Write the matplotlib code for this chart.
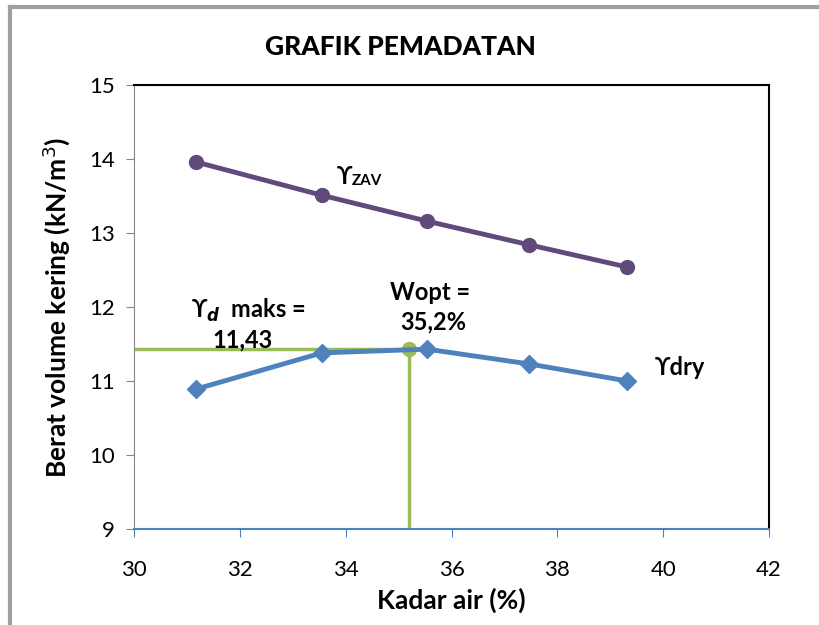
import matplotlib.pyplot as plt
from matplotlib.lines import Line2D

plt.rcParams['font.family'] = ['Lato', 'DejaVu Sans']

# kadar air (%) dan berat volume (kN/m3)
kadar_air = [31.17, 33.55, 35.54, 37.47, 39.32]
gamma_zav = [13.96, 13.51, 13.16, 12.84, 12.54]
gamma_dry = [10.89, 11.38, 11.43, 11.23, 11.00]
w_opt = 35.2
gd_maks = 11.43

x_ticks = [30, 32, 34, 36, 38, 40, 42]
y_ticks = [9, 10, 11, 12, 13, 14, 15]

purple = '#604A7B'
blue = '#4F81BD'
green = '#9BBB59'

fig = plt.figure(figsize=(8.19, 6.25), dpi=100)
ax = fig.add_axes([0.1636, 0.1536, 0.7754, 0.7104])

ax.plot(kadar_air, gamma_zav, color=purple, lw=3.5, marker='o', ms=10, zorder=3)
ax.plot([30, w_opt], [gd_maks, gd_maks], color=green, lw=2.5, zorder=2)
ax.plot([w_opt, w_opt], [9, gd_maks], color=green, lw=2.5, zorder=2)
ax.plot([w_opt], [gd_maks], color=green, marker='o', ms=10, zorder=2)
ax.plot(kadar_air, gamma_dry, color=blue, lw=3.5, marker='D', ms=9, zorder=3)

ax.set_xlim(30, 42)
ax.set_ylim(9, 15)
ax.set_xticks(x_ticks)
ax.set_yticks(y_ticks)
ax.tick_params(axis='both', labelsize=16, direction='out', length=6, pad=8)
ax.tick_params(axis='x', color=blue, pad=16)
ax.tick_params(axis='y', color='#868686')
ax.spines['left'].set_color('#868686')
ax.spines['bottom'].set_color(blue)
ax.spines['bottom'].set_linewidth(1.5)
ax.spines['top'].set_color('black')
ax.spines['right'].set_color('black')
ax.spines['top'].set_linewidth(1.5)
ax.spines['right'].set_linewidth(1.5)

ax.set_xlabel('Kadar air (%)', fontsize=19, fontweight='bold', labelpad=6)
ax.set_ylabel('Berat volume kering (kN/m$^3$)', fontsize=19, fontweight='bold', labelpad=12)
fig.text(0.489, 0.925, 'GRAFIK PEMADATAN', ha='center', va='center',
         fontsize=19, fontweight='black')

ax.text(32.16, 11.96, r'ϒ$_{\boldsymbol{d}}$  maks =', ha='center', va='center',
        fontsize=17, fontweight='bold')
ax.text(32.06, 11.55, '11,43', ha='center', va='center', fontsize=17, fontweight='bold')
ax.text(35.6, 12.2, 'Wopt =', ha='center', va='center', fontsize=17, fontweight='bold')
ax.text(35.65, 11.8, '35,2%', ha='center', va='center', fontsize=17, fontweight='bold')
ax.text(33.97, 13.77, 'ϒ', ha='center', va='center', fontsize=17, fontweight='bold')
ax.text(34.4, 13.70, 'ZAV', ha='center', va='center', fontsize=11, fontweight='bold')
ax.text(40.32, 11.18, 'ϒdry', ha='center', va='center', fontsize=17, fontweight='bold')

# bingkai abu-abu
fig.add_artist(Line2D([0.012, 0.012], [0, 0.989], color='#A0A0A0', lw=3))
fig.add_artist(Line2D([0.012, 1.0], [0.989, 0.989], color='#A0A0A0', lw=3))

fig.savefig('out.png', dpi=100)
